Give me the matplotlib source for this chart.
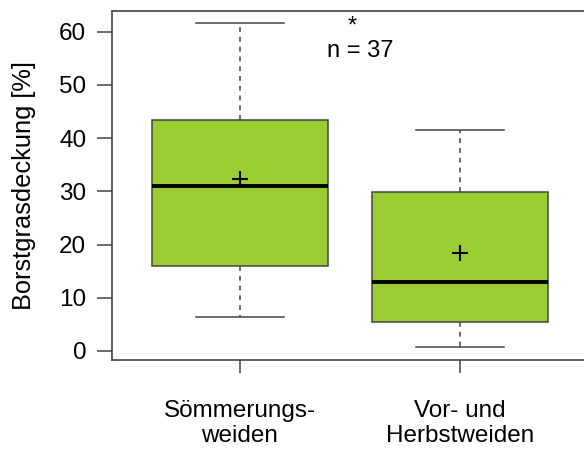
import matplotlib
matplotlib.use("Agg")
import matplotlib.pyplot as plt

# data
categories = ["Sömmerungs-\nweiden", "Vor- und\nHerbstweiden"]
whisker_low = [6.3, 0.75]
q1 = [15.9, 5.5]
median = [31.0, 12.9]
q3 = [43.4, 29.9]
whisker_high = [61.6, 41.5]
means = [32.3, 18.4]
yticks = [0, 10, 20, 30, 40, 50, 60]
annot_star = "*"
annot_n = "n = 37"

plt.rcParams['font.family'] = ['Liberation Sans', 'DejaVu Sans']

fig = plt.figure(figsize=(5.84, 4.5), dpi=100)
ax = fig.add_axes([112/584, 90/450, 476/584, 349/450])

stats = []
for i in range(len(categories)):
    stats.append(dict(med=median[i], q1=q1[i], q3=q3[i],
                      whislo=whisker_low[i], whishi=whisker_high[i],
                      mean=means[i], fliers=[]))

line_col = '#444444'
ax.bxp(stats, positions=[1, 2], widths=0.8, capwidths=0.4,
       patch_artist=True, showmeans=True, showfliers=False,
       boxprops=dict(facecolor='#9ACD32', edgecolor=line_col, linewidth=1.1),
       medianprops=dict(color='black', linewidth=2.8, solid_capstyle='butt'),
       whiskerprops=dict(color=line_col, linewidth=1.1, linestyle=(0, (3.2, 3.2))),
       capprops=dict(color=line_col, linewidth=1.1),
       meanprops=dict(marker='+', markeredgecolor='black', markersize=12,
                      markeredgewidth=1.5))

ax.set_xlim(0.42, 2.58)
ax.set_ylim(-1.7, 63.9)
ax.set_yticks(yticks)
ax.set_xticks([1, 2])
ax.set_xticklabels(categories, fontsize=17.5, linespacing=1.2)
ax.tick_params(axis='y', labelsize=17.5, length=10.5, width=1.1, color=line_col, pad=8)
ax.tick_params(axis='x', length=9.5, width=1.1, color=line_col, pad=19)
for sp in ax.spines.values():
    sp.set_color(line_col)
    sp.set_linewidth(1.2)

ax.set_ylabel("Borstgrasdeckung [%]", fontsize=18.3, labelpad=17)

ax.text(1.51, 61.0, annot_star, ha='center', va='center', fontsize=17)
ax.text(1.545, 56.3, annot_n, ha='center', va='center', fontsize=17)

fig.savefig("out.png", dpi=100)
